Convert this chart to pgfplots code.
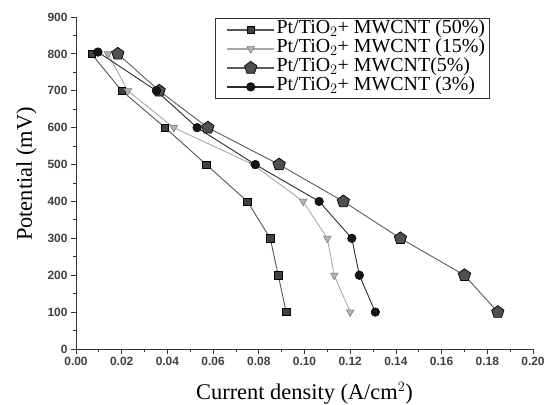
\documentclass[border=0pt]{standalone}
\usepackage{fontspec}
\setmainfont{Liberation Serif}
\setsansfont{Liberation Sans}
\usepackage{pgfplots}
\pgfplotsset{compat=1.18}
\usetikzlibrary{plotmarks}
\definecolor{sqc}{HTML}{404040}
\definecolor{sql}{HTML}{555555}
\definecolor{trc}{HTML}{B4B4B4}
\definecolor{trl}{HTML}{A8A8A8}
\definecolor{pec}{HTML}{505050}
\definecolor{pel}{HTML}{5A5A5A}
\definecolor{cic}{HTML}{151515}
\definecolor{cil}{HTML}{2A2A2A}
\begin{document}
\begin{tikzpicture}[x=1bp,y=1bp]
\begin{axis}[
  scale only axis,
  width=457bp, height=332bp,
  xmin=0, xmax=0.2, ymin=0, ymax=900,
  axis lines=left,
  axis line style={-, line width=0.9pt, black!80},
  xtick={0,0.02,...,0.2},
  ytick={0,100,...,900},
  minor x tick num=1,
  minor y tick num=1,
  tick align=outside,
  major tick length=5bp,
  minor tick length=3bp,
  tick style={line width=0.8pt, black!80},
  xticklabel style={/pgf/number format/.cd, fixed, fixed zerofill, precision=2},
  /pgf/number format/assume math mode=true,
  ticklabel style={font=\sffamily\bfseries\fontsize{12}{13}\selectfont, text=black!75},
  scaled x ticks=false,
  xlabel={Current density (A/cm$^{2}$)},
  ylabel={Potential (mV)},
  label style={font=\fontsize{22.5}{24}\selectfont},
  xlabel style={at={(axis description cs:0.5,0)}, anchor=base, yshift=-50bp},
  ylabel style={at={(axis description cs:0,0.527)}, anchor=base, yshift=44bp},
  legend cell align=left,
  legend style={at={(axis description cs:0.305,0.997)}, anchor=north west,
    font=\fontsize{20}{20}\selectfont, draw=black!80, line width=0.8pt,
    inner xsep=3bp, inner ysep=2bp, row sep=0bp,
    nodes={inner ysep=0bp, inner xsep=1.5bp, text height=13.5bp, text depth=5.5bp}},
]
\addplot[sql, line width=0.9pt, mark=square*, mark size=3.6bp, mark options={fill=sqc, draw=black, line width=0.6pt},
  legend image code/.code={\path (0bp,0bp) (55bp,0bp);
    \draw[sql, line width=1.8pt] (8bp,0bp) -- (31.5bp,0bp);
    \draw[sql, line width=1.8pt] (31.5bp,0bp) -- (55bp,0bp);
    \draw plot coordinates {(31.5bp,0bp)};}]
 coordinates {(0.0068,800) (0.020,700) (0.039,600) (0.057,500) (0.075,400) (0.085,300) (0.0885,200) (0.092,100)};
\addlegendentry{Pt/TiO$_2$+ MWCNT (50\%)}
\addplot[trl, line width=0.9pt, mark=triangle*, mark size=4.4bp, mark options={rotate=180, fill=trc, draw=black!55, line width=0.5pt},
  legend image code/.code={\path (0bp,0bp) (55bp,0bp);
    \draw[trl, line width=1.8pt] (8bp,0bp) -- (31.5bp,0bp);
    \draw[trl, line width=1.8pt] (31.5bp,0bp) -- (55bp,0bp);
    \draw plot coordinates {(31.5bp,0bp)};}]
 coordinates {(0.014,800) (0.0227,700) (0.0428,600) (0.0775,500) (0.0994,400) (0.110,300) (0.113,200) (0.120,100)};
\addlegendentry{Pt/TiO$_2$+ MWCNT (15\%)}
\addplot[pel, line width=0.9pt, mark=pentagon*, mark size=6.5bp, mark options={fill=pec, draw=black, line width=0.7pt},
  legend image code/.code={\path (0bp,0bp) (55bp,0bp);
    \draw[pel, line width=1.8pt] (8bp,0bp) -- (31.5bp,0bp);
    \draw[pel, line width=1.8pt] (31.5bp,0bp) -- (55bp,0bp);
    \draw plot coordinates {(31.5bp,0bp)};}]
 coordinates {(0.0183,800) (0.0364,700) (0.0577,600) (0.0889,500) (0.117,400) (0.142,300) (0.170,200) (0.1846,100)};
\addlegendentry{Pt/TiO$_2$+ MWCNT(5\%)}
\addplot[cil, line width=0.9pt, mark=*, mark size=4.3bp, mark options={fill=cic, draw=black, line width=0.5pt},
  legend image code/.code={\path (0bp,0bp) (55bp,0bp);
    \draw[cil, line width=1.8pt] (8bp,0bp) -- (31.5bp,0bp);
    \draw[cil, line width=1.8pt] (31.5bp,0bp) -- (55bp,0bp);
    \draw plot coordinates {(31.5bp,0bp)};}]
 coordinates {(0.0096,805) (0.0352,700) (0.053,600) (0.0785,500) (0.1064,400) (0.1207,300) (0.124,200) (0.131,100)};
\addlegendentry{Pt/TiO$_2$+ MWCNT (3\%)}
\end{axis}
\pgfresetboundingbox
\path (-76bp,-56bp) rectangle (469bp,349bp);
\end{tikzpicture}
\end{document}
